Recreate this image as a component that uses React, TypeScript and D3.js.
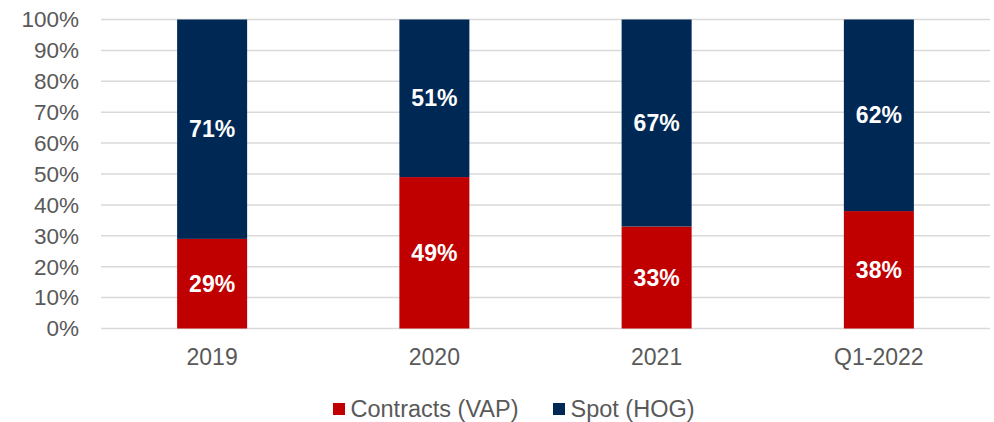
import React from "react";
import * as d3 from "d3";

const categories = ["2019", "2020", "2021", "Q1-2022"];
const contracts = [29, 49, 33, 38];
const spot = [71, 51, 67, 62];
const yTicks = [0, 10, 20, 30, 40, 50, 60, 70, 80, 90, 100];
const seriesNames = ["Contracts (VAP)", "Spot (HOG)"];
const colors = ["#C00000", "#002855"];

export default function App() {
  const W = 994, H = 422;
  const left = 101, right = 990, top = 19.5, bottom = 328.5;
  const x = d3.scaleBand<string>().domain(categories).range([left, right]).paddingInner(0.685).paddingOuter(0.3425);
  const y = d3.scaleLinear().domain([0, 100]).range([bottom, top]);
  const font = "Arial, 'Liberation Sans', sans-serif";
  const stack = categories.map((c, i) => [
    { y0: 0, y1: contracts[i], color: colors[0], v: contracts[i] },
    { y0: contracts[i], y1: contracts[i] + spot[i], color: colors[1], v: spot[i] },
  ]);
  return (
    <svg width={W} height={H} style={{ position: "absolute", left: 0, top: 0 }} fontFamily={font}>
      {yTicks.map((t) => (
        <g key={t}>
          <line x1={left} x2={right} y1={y(t)} y2={y(t)} stroke="#d9d9d9" strokeWidth={1.5} />
          <text x={79} y={y(t)} dy="0.35em" textAnchor="end" fontSize={22.5} fill="#595959">{t}%</text>
        </g>
      ))}
      {categories.map((c, i) => (
        <g key={c}>
          {stack[i].map((s, j) => (
            <g key={j}>
              <rect x={x(c)!} width={x.bandwidth()} y={y(s.y1)} height={y(s.y0) - y(s.y1)} fill={s.color} />
              <text x={x(c)! + x.bandwidth() / 2} y={y((s.y0 + s.y1) / 2)} dy="0.35em" textAnchor="middle" fontSize={23} fontWeight="bold" fill="#ffffff">{s.v}%</text>
            </g>
          ))}
          <text x={x(c)! + x.bandwidth() / 2} y={357} dy="0.35em" textAnchor="middle" fontSize={23} fill="#595959">{c}</text>
        </g>
      ))}
      {seriesNames.map((n, i) => {
        const lx = [333, 553][i];
        return (
          <g key={n}>
            <rect x={lx} y={403} width={12} height={12} fill={colors[i]} />
            <text x={lx + 17.5} y={408.5} dy="0.35em" fontSize={23.5} fill="#595959">{n}</text>
          </g>
        );
      })}
    </svg>
  );
}
